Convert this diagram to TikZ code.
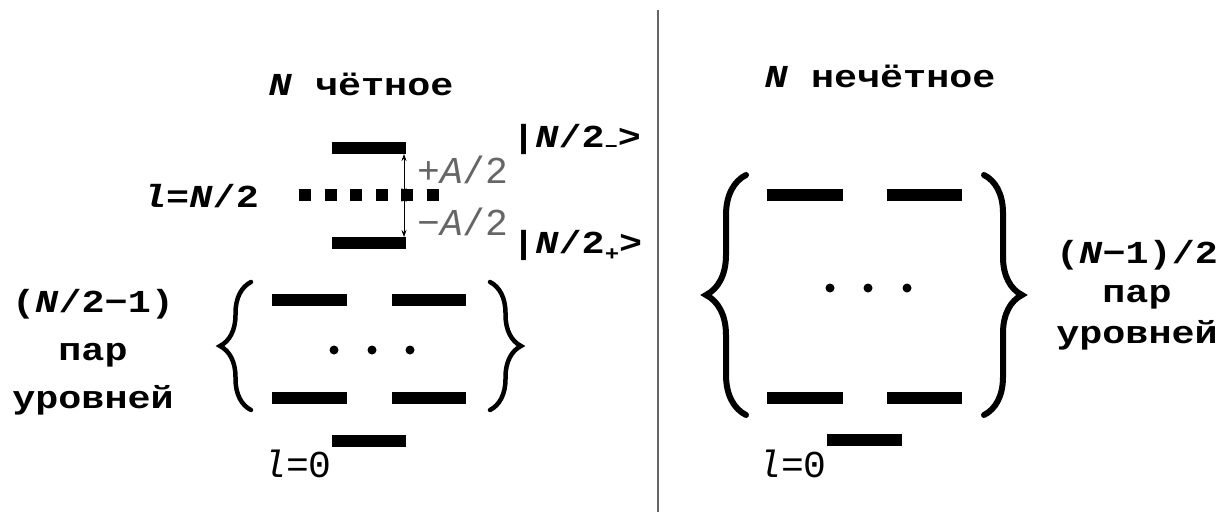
\documentclass[tikz,border=0pt]{standalone}
\usepackage{fontspec}
\usepackage{tikz}
\usetikzlibrary{decorations.pathreplacing,arrows.meta}
\newfontfamily\levelfont[FakeStretch=1.2]{Liberation Mono}
\newfontfamily\shiftfont{Liberation Mono}

\begin{document}
\begin{tikzpicture}[x=1pt, y=-1pt,
    level/.style={line width=12.5pt},
    txt/.style={inner sep=0pt, font=\levelfont\bfseries\fontsize{32}{40}\selectfont},
    thin/.style={inner sep=0pt, font=\shiftfont\fontsize{38}{44}\selectfont},
    curly/.style={decorate, decoration={brace, amplitude=#1}, line width=4.5pt, line cap=round},
    gap/.style={line width=0.8pt, {Stealth[length=7pt,width=5pt]}-{Stealth[length=7pt,width=5pt]}}]
    \useasboundingbox (0,0) rectangle (1225,512);
    \draw[black!60, line width=2pt] (658,10) -- (658,512);

    % N even
    \node[txt, anchor=base] (titleE) at (361,95) {\textit{N} чётное};
    \draw[level] (332,148) -- (406,148);
    \draw[level, dash pattern=on 12pt off 13.5pt] (299,195) -- (439,195);
    \draw[level] (332,243) -- (406,243);
    \coordinate (upper) at (404,154);
    \coordinate (middle) at (404,195);
    \coordinate (lower) at (404,237);
    \draw[gap] (upper) -- (middle);
    \draw[gap] (middle) -- (lower);
    \node[thin, black!60, anchor=base west] (shiftP) at (417,183) {+\textit{A}/2};
    \node[thin, black!60, anchor=base west] (shiftM) at (417,235) {−\textit{A}/2};
    \node[txt, anchor=base west] (lhalf) at (143,207) {\textit{l}=\textit{N}/2};
    \node[txt, anchor=base west] (ketM) at (512,147) {|\textit{N}/2\raisebox{-5pt}{\fontsize{18}{18}\selectfont −}>};
    \node[txt, anchor=base west] (ketP) at (512,253) {|\textit{N}/2\raisebox{-7pt}{\fontsize{20}{20}\selectfont +}>};

    \draw[curly=31] (251,410) -- (251,282);
    \draw[curly=31] (490,282) -- (490,410);
    \draw[level] (272,300) -- (347,300);
    \draw[level] (392,300) -- (466,300);
    \fill (334,350) circle (4.5pt);
    \fill (372,350) circle (4.5pt);
    \fill (410,350) circle (4.5pt);
    \draw[level] (272,398) -- (347,398);
    \draw[level] (392,398) -- (466,398);
    \draw[level] (332,441) -- (406,441);
    \node[thin, anchor=base west] (zeroE) at (263,477) {\textit{l}=0};
    \node[txt, anchor=base] (pairsE) at (93,312) {(\textit{N}/2−1)};
    \node[txt, anchor=base] (parE) at (93,360) {пар};
    \node[txt, anchor=base] (urovE) at (93,408) {уровней};

    % N odd
    \node[txt, anchor=base] (titleO) at (880,87) {\textit{N} нечётное};
    \draw[curly=40, line width=6pt] (746,415) -- (746,175);
    \draw[curly=38, line width=6pt] (984,175) -- (984,415);
    \draw[level] (767,195) -- (843,195);
    \draw[level] (887,195) -- (962,195);
    \fill (830,288) circle (4.5pt);
    \fill (868,288) circle (4.5pt);
    \fill (907,288) circle (4.5pt);
    \draw[level] (767,398) -- (843,398);
    \draw[level] (887,398) -- (962,398);
    \draw[level] (827,440) -- (902,440);
    \node[thin, anchor=base west] (zeroO) at (758,477) {\textit{l}=0};
    \node[txt, anchor=base] (pairsO) at (1137,263) {(\textit{N}−1)/2};
    \node[txt, anchor=base] (parO) at (1137,302) {пар};
    \node[txt, anchor=base] (urovO) at (1137,343) {уровней};
\end{tikzpicture}
\end{document}
